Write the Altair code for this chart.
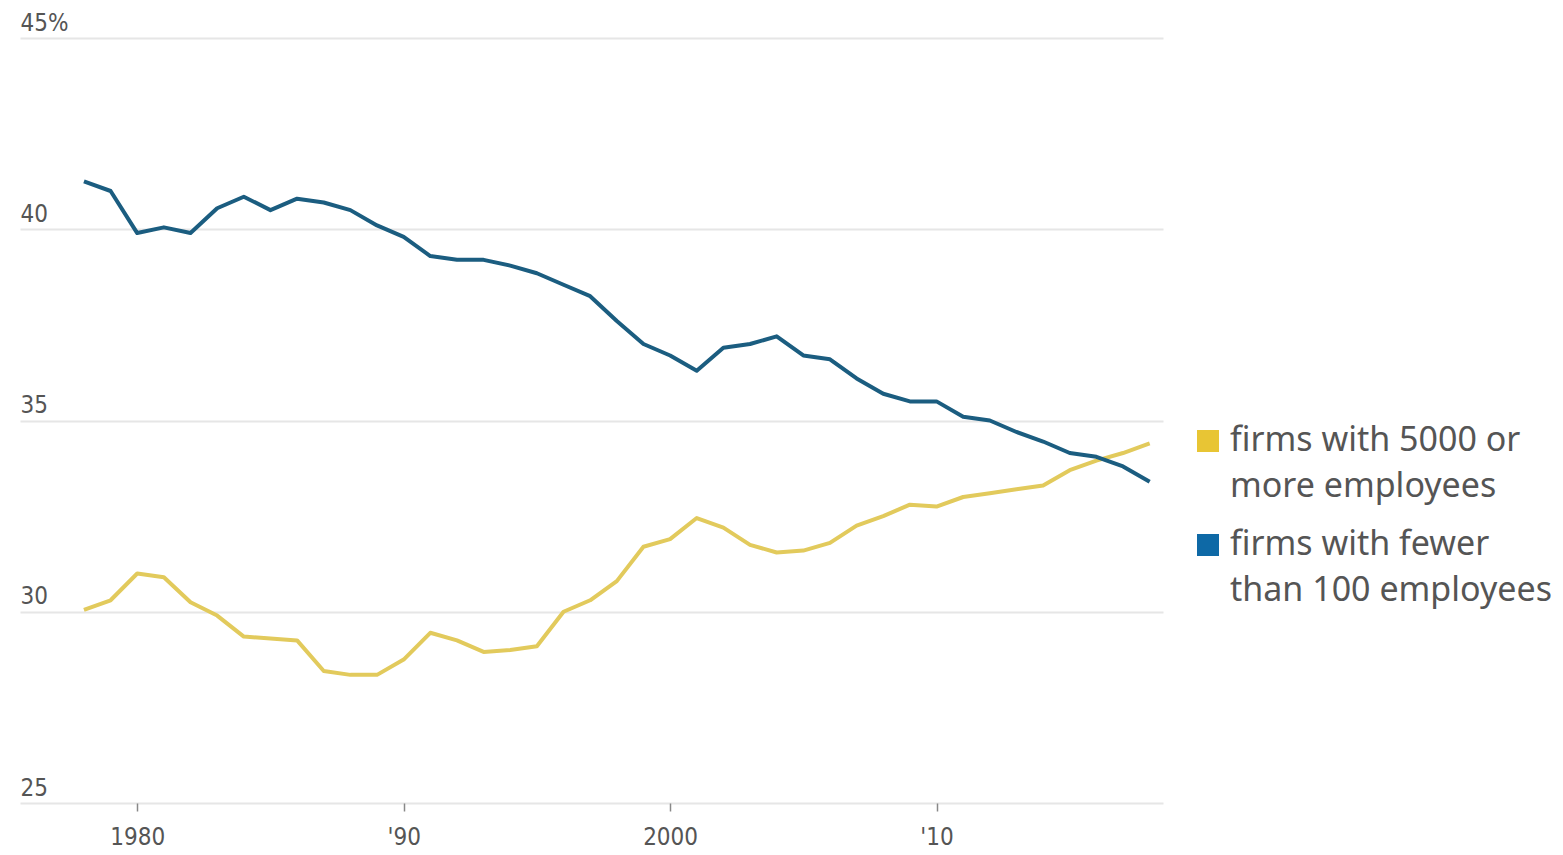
import altair as alt
import pandas as pd

years = list(range(1978, 2019))
large_firms = [30.05, 30.3, 31.0, 30.9, 30.25, 29.9, 29.35, 29.3, 29.25, 28.45,
               28.35, 28.35, 28.75, 29.45, 29.25, 28.95, 29.0, 29.1, 30.0, 30.3,
               30.8, 31.7, 31.9, 32.45, 32.2, 31.75, 31.55, 31.6, 31.8, 32.25,
               32.5, 32.8, 32.75, 33.0, 33.1, 33.2, 33.3, 33.7, 33.95, 34.15, 34.4]
small_firms = [41.25, 41.0, 39.9, 40.05, 39.9, 40.55, 40.85, 40.5, 40.8, 40.7,
               40.5, 40.1, 39.8, 39.3, 39.2, 39.2, 39.05, 38.85, 38.55, 38.25,
               37.6, 37.0, 36.7, 36.3, 36.9, 37.0, 37.2, 36.7, 36.6, 36.1,
               35.7, 35.5, 35.5, 35.1, 35.0, 34.7, 34.45, 34.15, 34.05, 33.8, 33.4]

series_names = ["firms with 5000 or more employees", "firms with fewer than 100 employees"]
legend_lines = [["firms with 5000 or", "more employees"], ["firms with fewer", "than 100 employees"]]
series_colors = ["#e2ca5c", "#1b5d80"]
legend_colors = ["#e8c534", "#0e69a6"]

x_ticks = [1980, 1990, 2000, 2010]
x_tick_labels = ["1980", "'90", "2000", "'10"]
y_ticks = [25, 30, 35, 40, 45]
y_tick_labels = ["25", "30", "35", "40", "45%"]

rows = []
for y, a, b in zip(years, large_firms, small_firms):
    rows.append({"year": y, "series": series_names[0], "value": a})
    rows.append({"year": y, "series": series_names[1], "value": b})
df = pd.DataFrame(rows)

x_expr = " : ".join(f"datum.value == {v} ? \"{l}\"" for v, l in zip(x_ticks, x_tick_labels)) + " : ''"
y_expr = " : ".join(f"datum.value == {v} ? '{l}'" for v, l in zip(y_ticks, y_tick_labels)) + " : ''"

axis_font = "DejaVu Sans Condensed, Liberation Sans, sans-serif"

lines = alt.Chart(df).mark_line(strokeWidth=4, strokeJoin="round").encode(
    x=alt.X("year:Q", scale=alt.Scale(domain=[1975.6, 2018.5], nice=False, zero=False),
            axis=alt.Axis(values=x_ticks, labelExpr=x_expr, title=None, domain=False, grid=False,
                          ticks=True, tickSize=8, tickColor="#888", tickWidth=1.5,
                          labelFont=axis_font, labelFontSize=24, labelColor="#555",
                          labelPadding=14)),
    y=alt.Y("value:Q", scale=alt.Scale(domain=[25, 45], nice=False, zero=False),
            axis=alt.Axis(values=y_ticks, labelExpr=y_expr, title=None, domain=False, ticks=False,
                          grid=True, gridColor="#e6e6e6", gridWidth=2,
                          labelAlign="left", labelBaseline="bottom", labelPadding=0, labelOffset=-3,
                          labelFont=axis_font, labelFontSize=24, labelColor="#555")),
    color=alt.Color("series:N", scale=alt.Scale(domain=series_names, range=series_colors), legend=None),
)

layers = [lines]
sq_y = [403, 507]
for i in range(2):
    sq = alt.Chart(pd.DataFrame({"k": [series_names[i]]})).mark_square(
        size=484, color=legend_colors[i], opacity=1).encode(
        x=alt.value(1188), y=alt.value(sq_y[i]))
    tx = alt.Chart(pd.DataFrame({"k": [legend_lines[i]]})).mark_text(
        align="left", baseline="middle", font="Noto Sans", fontSize=34, color="#555",
        lineHeight=46).encode(
        x=alt.value(1210), y=alt.value(sq_y[i]), text="k:N")
    layers += [sq, tx]

chart = alt.layer(*layers).properties(
    width=1143, height=765,
    background="white",
    autosize=alt.AutoSizeParams(type="none"),
    padding={"left": 20, "top": 38, "right": 400, "bottom": 52},
).configure_view(strokeWidth=0, stroke="transparent")

chart.save("out.html", embed_options={"renderer": "svg", "actions": False})
